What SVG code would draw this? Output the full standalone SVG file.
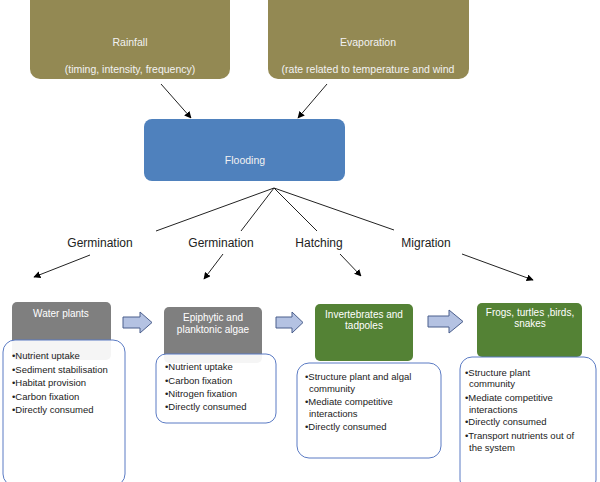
<svg xmlns="http://www.w3.org/2000/svg" width="600" height="482" viewBox="0 0 600 482">
<defs>
<marker id="ah" viewBox="0 0 10 10" refX="9" refY="5" markerWidth="7" markerHeight="7" markerUnits="userSpaceOnUse" orient="auto">
<path d="M0,0 L10,5 L0,10 Z" fill="#000"/>
</marker>
<style>
.olive{fill:#938953}
.blue{fill:#4F81BD}
.gray{fill:#7F7F7F}
.green{fill:#548235}
.list{fill:#fff;fill-opacity:0.92;stroke:#5B7BC4;stroke-width:1}
.ttl{font-family:"Liberation Sans",Arial,sans-serif;font-size:10.5px;fill:#F2F2F2;text-anchor:middle}
.hd{font-family:"Liberation Sans",Arial,sans-serif;font-size:10px;fill:#fff;text-anchor:middle}
.bl{font-family:"Liberation Sans",Arial,sans-serif;font-size:9.5px;fill:#222}
.lbl{font-family:"Liberation Sans",Arial,sans-serif;font-size:12px;fill:#222;text-anchor:middle}
.ln{stroke:#222;stroke-width:1;fill:none}
.blk{fill:#B4C2E2;stroke:#4A5E8C;stroke-width:1}
</style>
</defs>

<g id="rainfall">
<rect class="olive" x="30" y="-10" width="200" height="89" rx="10"/>
<text class="ttl" x="130" y="46">Rainfall</text>
<text class="ttl" x="130" y="73">(timing, intensity, frequency)</text>
</g>
<g id="evaporation">
<rect class="olive" x="268" y="-10" width="201" height="89" rx="10"/>
<text class="ttl" x="368" y="46">Evaporation</text>
<text class="ttl" x="368" y="73">(rate related to temperature and wind</text>
</g>
<g id="flooding">
<rect class="blue" x="144" y="119" width="201" height="62" rx="8"/>
<text class="ttl" x="245" y="164">Flooding</text>
</g>

<g id="connectors">
<line class="ln" x1="161" y1="84" x2="191" y2="118" marker-end="url(#ah)"/>
<line class="ln" x1="327" y1="84" x2="298" y2="118" marker-end="url(#ah)"/>
<line class="ln" x1="274" y1="188" x2="156" y2="231"/>
<line class="ln" x1="274" y1="188" x2="241" y2="231"/>
<line class="ln" x1="274" y1="188" x2="317" y2="231"/>
<line class="ln" x1="274" y1="188" x2="394" y2="230"/>
<line class="ln" x1="90" y1="255" x2="34" y2="277" marker-end="url(#ah)"/>
<line class="ln" x1="223" y1="254" x2="204" y2="279" marker-end="url(#ah)"/>
<line class="ln" x1="340" y1="254" x2="361" y2="276" marker-end="url(#ah)"/>
<line class="ln" x1="462" y1="254" x2="533" y2="280" marker-end="url(#ah)"/>
<path class="blk" d="M123,317 L140,317 L140,312 L152,322.5 L140,333 L140,328 L123,328 Z"/>
<path class="blk" d="M276,317 L292,317 L292,312 L303,322.5 L292,333 L292,328 L276,328 Z"/>
<path class="blk" d="M428,316 L449,316 L449,310 L463,321.5 L449,333 L449,327 L428,327 Z"/>
</g>

<text class="lbl" x="100" y="247">Germination</text>
<text class="lbl" x="221" y="247">Germination</text>
<text class="lbl" x="319" y="247">Hatching</text>
<text class="lbl" x="426" y="247">Migration</text>

<g id="water-plants">
<rect class="gray" x="12" y="302" width="99" height="58" rx="5"/>
<text class="hd" x="61" y="317">Water plants</text>
<rect class="list" x="3" y="340" width="122" height="146" rx="12"/>
<text class="bl" x="12" y="359">•Nutrient uptake</text>
<text class="bl" x="12" y="372.5">•Sediment stabilisation</text>
<text class="bl" x="12" y="386">•Habitat provision</text>
<text class="bl" x="12" y="399.5">•Carbon fixation</text>
<text class="bl" x="12" y="413">•Directly consumed</text>
</g>

<g id="algae">
<rect class="gray" x="164" y="307" width="98" height="56" rx="5"/>
<text class="hd" x="213" y="321">Epiphytic and</text>
<text class="hd" x="213" y="333">planktonic algae</text>
<rect class="list" x="156" y="354" width="120" height="69" rx="10"/>
<text class="bl" x="165" y="370">•Nutrient uptake</text>
<text class="bl" x="165" y="384">•Carbon fixation</text>
<text class="bl" x="165" y="397">•Nitrogen fixation</text>
<text class="bl" x="165" y="410">•Directly  consumed</text>
</g>

<g id="invertebrates">
<rect class="green" x="315" y="304" width="98" height="57" rx="5"/>
<text class="hd" x="364" y="318">Invertebrates and</text>
<text class="hd" x="364" y="329">tadpoles</text>
<rect class="list" x="297" y="363" width="144" height="95" rx="12"/>
<text class="bl" x="305" y="380">•Structure plant and algal</text>
<text class="bl" x="309" y="392">community</text>
<text class="bl" x="305" y="405">•Mediate competitive</text>
<text class="bl" x="309" y="417">interactions</text>
<text class="bl" x="305" y="430">•Directly consumed</text>
</g>

<g id="frogs">
<rect class="green" x="477" y="303" width="105" height="54" rx="5"/>
<text class="hd" x="530" y="316">Frogs, turtles ,birds,</text>
<text class="hd" x="530" y="327">snakes</text>
<rect class="list" x="460" y="357" width="136" height="135" rx="12"/>
<text class="bl" x="465" y="376">•Structure plant</text>
<text class="bl" x="469" y="387">community</text>
<text class="bl" x="465" y="401">•Mediate competitive</text>
<text class="bl" x="469" y="413">interactions</text>
<text class="bl" x="465" y="425">•Directly consumed</text>
<text class="bl" x="465" y="439">•Transport nutrients out of</text>
<text class="bl" x="469" y="451">the system</text>
</g>
</svg>
